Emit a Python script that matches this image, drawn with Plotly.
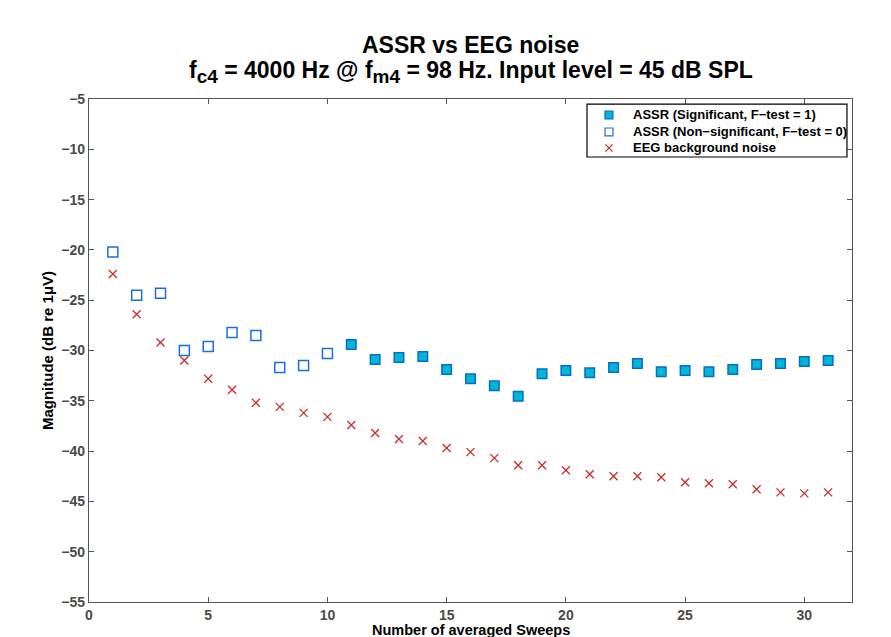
import plotly.graph_objects as go

# Number of averaged sweeps
sweeps = list(range(1, 32))

# ASSR magnitude (dB re 1 uV) per sweep count
assr = [-20.2, -24.5, -24.3, -30.0, -29.6, -28.2, -28.5, -31.7, -31.5, -30.3,
        -29.4, -30.9, -30.7, -30.6, -31.9, -32.8, -33.5, -34.55, -32.3, -32.0,
        -32.2, -31.7, -31.3, -32.1, -32.0, -32.1, -31.9, -31.4, -31.3, -31.1, -31.0]

# F-test outcome per sweep count (1 = significant)
ftest = [0] * 10 + [1] * 21

# EEG background noise (dB re 1 uV)
eeg = [-22.4, -26.4, -29.2, -31.0, -32.8, -33.9, -35.2, -35.6, -36.2, -36.6,
       -37.4, -38.2, -38.8, -39.0, -39.7, -40.1, -40.7, -41.4, -41.4, -41.9,
       -42.3, -42.5, -42.5, -42.6, -43.1, -43.2, -43.3, -43.8, -44.1, -44.2, -44.1]

x_ticks = [0, 5, 10, 15, 20, 25, 30]
y_ticks = [-55, -50, -45, -40, -35, -30, -25, -20, -15, -10, -5]

legend_labels = [
    "ASSR (Significant, F\u2212test = 1)",
    "ASSR (Non\u2212significant, F\u2212test = 0)",
    "EEG background noise",
]

sig_x = [s for s, f in zip(sweeps, ftest) if f == 1]
sig_y = [a for a, f in zip(assr, ftest) if f == 1]
non_x = [s for s, f in zip(sweeps, ftest) if f == 0]
non_y = [a for a, f in zip(assr, ftest) if f == 0]

FONT = "Liberation Sans, Arial, Helvetica, sans-serif"
SIG_FILL, SIG_EDGE = "#00b8d4", "#0a6ad0"
NON_EDGE = "#1a70d8"
EEG_COL = "#cc2a2a"

fig = go.Figure()
fig.add_trace(go.Scatter(
    x=sig_x, y=sig_y, mode="markers", name=legend_labels[0],
    marker=dict(symbol="square", size=9.5, color=SIG_FILL,
                line=dict(color=SIG_EDGE, width=1.5)),
))
fig.add_trace(go.Scatter(
    x=non_x, y=non_y, mode="markers", name=legend_labels[1],
    marker=dict(symbol="square-open", size=10, color=NON_EDGE,
                line=dict(width=1.5)),
))
fig.add_trace(go.Scatter(
    x=sweeps, y=eeg, mode="markers", name=legend_labels[2],
    marker=dict(symbol="x-thin-open", size=8, color=EEG_COL,
                line=dict(color=EEG_COL, width=1.3)),
))

axis_common = dict(
    showgrid=False, zeroline=False, automargin=False,
    showline=True, linecolor="#555555", linewidth=1.2, mirror="ticks",
    ticks="inside", ticklen=5, tickcolor="#555555", tickwidth=1,
    tickfont=dict(family=FONT, size=14, color="#4a4a4a", weight="bold"),
)

# Two-line title, written as paper-anchored annotations
fig.add_annotation(
    text="<b>ASSR vs EEG noise</b>", xref="paper", yref="paper",
    x=0.5, y=1.1074, xanchor="center", yanchor="middle", showarrow=False,
    font=dict(family=FONT, size=23, color="black"),
)
sub = '<sub><span style="font-size:19px">{}</span></sub>'
fig.add_annotation(
    text="<b>f" + sub.format("c4") + " = 4000 Hz @ f" + sub.format("m4")
         + " = 98 Hz. Input level = 45 dB SPL</b>",
    xref="paper", yref="paper",
    x=0.5, y=1.0537, xanchor="center", yanchor="middle", showarrow=False,
    font=dict(family=FONT, size=23, color="black"),
)

# x-axis label, placed just under the tick labels
fig.add_annotation(
    text="<b>Number of averaged Sweeps</b>", xref="paper", yref="paper",
    x=0.5, y=-0.0565, xanchor="center", yanchor="middle", showarrow=False,
    font=dict(family=FONT, size=14.5, color="black"),
)

# Boxed legend in the upper-right corner of the axes (paper coordinates)
lg_x0, lg_x1, lg_y0, lg_y1 = 0.6527, 0.9934, 0.8847, 0.9900
row_y = [0.9682, 0.9344, 0.9026]
sym_x, hw, hh = 0.6815, 0.0052, 0.0079
fig.add_shape(type="rect", xref="paper", yref="paper",
              x0=lg_x0, x1=lg_x1, y0=lg_y0, y1=lg_y1,
              fillcolor="white", line=dict(color="black", width=1.2), layer="above")
fig.add_shape(type="rect", xref="paper", yref="paper",
              x0=sym_x - hw, x1=sym_x + hw, y0=row_y[0] - hh, y1=row_y[0] + hh,
              fillcolor=SIG_FILL, line=dict(color=SIG_EDGE, width=1.2), layer="above")
fig.add_shape(type="rect", xref="paper", yref="paper",
              x0=sym_x - hw, x1=sym_x + hw, y0=row_y[1] - hh, y1=row_y[1] + hh,
              fillcolor="white", line=dict(color=NON_EDGE, width=1.2), layer="above")
for s in (1, -1):
    fig.add_shape(type="line", xref="paper", yref="paper",
                  x0=sym_x - 0.0047, x1=sym_x + 0.0047,
                  y0=row_y[2] - s * 0.0072, y1=row_y[2] + s * 0.0072,
                  line=dict(color=EEG_COL, width=1.2), layer="above")
for label, ry in zip(legend_labels, row_y):
    fig.add_annotation(
        text="<b>" + label + "</b>", xref="paper", yref="paper",
        x=0.7110, y=ry, xanchor="left", yanchor="middle", showarrow=False,
        font=dict(family=FONT, size=13, color="black"),
    )

fig.update_layout(
    width=891, height=637,
    paper_bgcolor="white", plot_bgcolor="white",
    margin=dict(l=89, r=39, t=99, b=35),
    showlegend=False,
    xaxis=dict(range=[0, 32], tickvals=x_ticks, **axis_common),
    yaxis=dict(
        range=[-55, -5], tickvals=y_ticks,
        title=dict(text="<b>Magnitude (dB re 1\u03bcV)</b>", standoff=4,
                   font=dict(family=FONT, size=15, color="black")),
        **axis_common,
    ),
)

fig.write_html("out.html")
